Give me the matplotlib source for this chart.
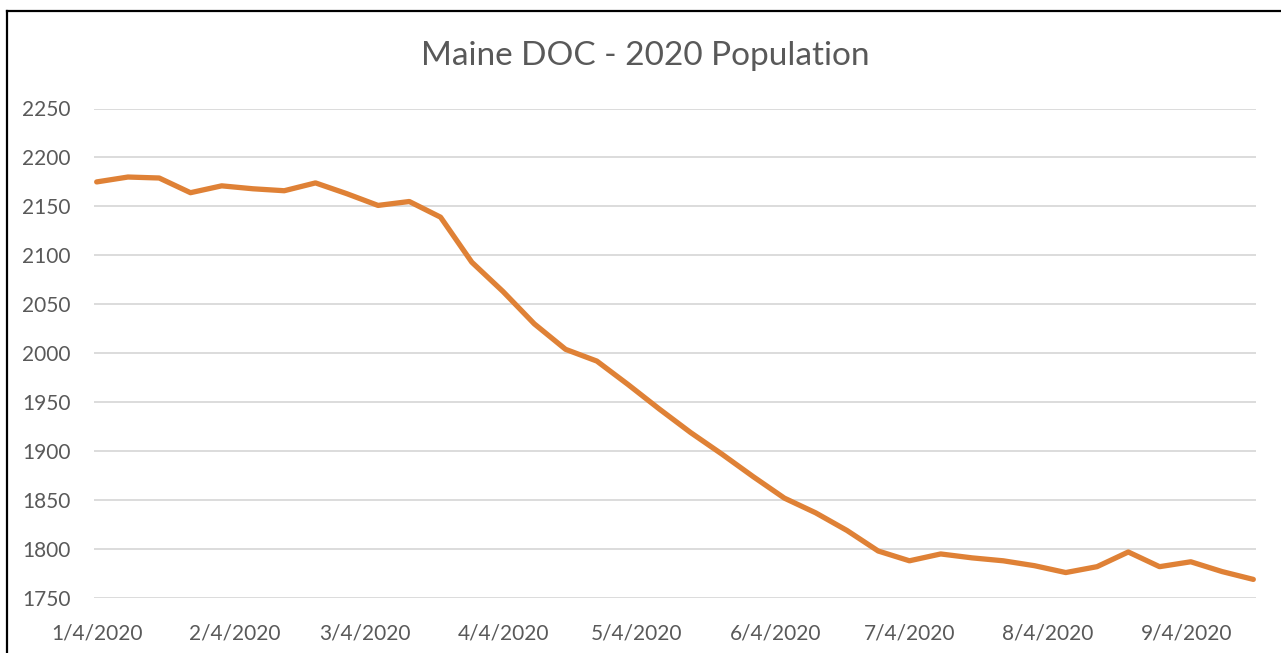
import datetime as dt
import matplotlib
matplotlib.use("Agg")
import matplotlib.pyplot as plt
import matplotlib.dates as mdates
from matplotlib.lines import Line2D

title = "Maine DOC - 2020 Population"
start_date = dt.date(2020, 1, 4)
population = [2175, 2180, 2179, 2164, 2171, 2168, 2166, 2174, 2163, 2151,
              2155, 2139, 2093, 2063, 2030, 2004, 1992, 1968, 1943, 1919,
              1897, 1874, 1852, 1837, 1819, 1798, 1788, 1795, 1791, 1788,
              1783, 1776, 1782, 1797, 1782, 1787, 1777, 1769]
dates = [start_date + dt.timedelta(weeks=i) for i in range(len(population))]
tick_dates = [dt.date(2020, m, 4) for m in range(1, 10)]
tick_labels = [f"{d.month}/{d.day}/{d.year}" for d in tick_dates]
y_ticks = list(range(1750, 2251, 50))

FONT = "Lato"
TEXT = "#595959"

fig = plt.figure(figsize=(12.81, 6.53), dpi=100)
ax = fig.add_axes([94 / 1281, 1 - 598 / 653, (1256 - 94) / 1281, (598 - 108.5) / 653])

ax.plot(dates, population, color="#DF8136", linewidth=3.8,
        solid_capstyle="round", solid_joinstyle="round", zorder=3)

ax.set_ylim(1750, 2250)
ax.set_yticks(y_ticks)
ax.set_xlim(mdates.date2num(dates[0]) - 0.6, mdates.date2num(dates[-1]) + 0.6)
ax.set_xticks([mdates.date2num(d) for d in tick_dates])
ax.set_xticklabels(tick_labels)

ax.grid(axis="y", color="#D9D9D9", linewidth=1.3)
ax.set_axisbelow(True)
for s in ax.spines.values():
    s.set_visible(False)
ax.tick_params(axis="both", length=0, labelsize=15, labelcolor=TEXT)
ax.tick_params(axis="y", pad=17)
ax.tick_params(axis="x", pad=18.5)
for lab in ax.get_xticklabels() + ax.get_yticklabels():
    lab.set_fontfamily(FONT)

fig.text(645 / 1281, 1 - 56 / 653, title, ha="center", va="center",
         fontsize=24, color=TEXT, fontfamily=FONT)

# chart border (left and top visible)
fig.add_artist(Line2D([7 / 1281, 7 / 1281], [0, 1 - 10.5 / 653],
                      transform=fig.transFigure, color="black", linewidth=1.6))
fig.add_artist(Line2D([7 / 1281, 1], [1 - 10.5 / 653, 1 - 10.5 / 653],
                      transform=fig.transFigure, color="black", linewidth=1.6))

fig.savefig("out.png", dpi=100, facecolor="white")
